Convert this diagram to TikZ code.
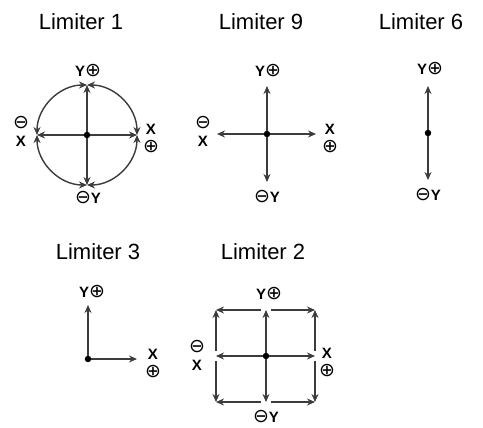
\documentclass[tikz,border=0pt]{standalone}
\usepackage{fontspec}
\setmainfont{Liberation Sans}
\newfontfamily\circfont{DejaVu Sans}
\usetikzlibrary{arrows.meta,positioning}
\definecolor{axisgray}{RGB}{60,60,60}
\newcommand{\posmark}{{\circfont\mdseries\fontsize{19}{18}\selectfont ⊕}}
\newcommand{\negmark}{{\circfont\mdseries\fontsize{19}{18}\selectfont ⊖}}

\begin{document}
\begin{tikzpicture}[
    x=1pt, y=1pt,
    title/.style={font=\fontsize{22}{26}\selectfont, inner sep=0pt},
    axlabel/.style={font=\bfseries\fontsize{15}{18}\selectfont, inner sep=0pt, align=center},
    origin/.style={circle, fill=black, inner sep=0pt, minimum size=6.5pt},
    axis/.style={-{Stealth[length=8pt,width=7pt]}, line width=1.4pt, axisgray},
    edge/.style={{Stealth[length=8pt,width=7pt]}-{Stealth[length=8pt,width=7pt]},
                 line width=1.4pt, axisgray}
]
\useasboundingbox (0,0) rectangle (483,428);

% titles
\node[title] (lim1) at (81,406) {Limiter 1};
\node[title] (lim9) at (261,406) {Limiter 9};
\node[title] (lim6) at (421,406) {Limiter 6};
\node[title] (lim3) at (98,176) {Limiter 3};
\node[title] (lim2) at (263,176) {Limiter 2};

% Limiter 1
\node[origin] (c1) at (87,293) {};
\coordinate (c1t) at (87,343);
\coordinate (c1b) at (87,243);
\coordinate (c1l) at (37,293);
\coordinate (c1r) at (137,293);
\draw[axis] (c1) -- (c1t);
\draw[axis] (c1) -- (c1b);
\draw[axis] (c1) -- (c1l);
\draw[axis] (c1) -- (c1r);
\draw[edge] (c1t) arc[start angle=90, end angle=0, radius=50pt];
\draw[edge] (c1r) arc[start angle=0, end angle=-90, radius=50pt];
\draw[edge] (c1b) arc[start angle=-90, end angle=-180, radius=50pt];
\draw[edge] (c1l) arc[start angle=180, end angle=90, radius=50pt];
\node[axlabel] (c1yp) at (88,357) {Y\posmark};
\node[axlabel] (c1yn) at (88,230) {\negmark Y};
\node[axlabel] (c1xn) at (21,297) {\negmark\\X};
\node[axlabel] (c1xp) at (151,290) {X\\\posmark};

% Limiter 9
\node[origin] (c9) at (267,294) {};
\coordinate (c9t) at (267,342);
\coordinate (c9b) at (267,246);
\coordinate (c9l) at (217,294);
\coordinate (c9r) at (316,294);
\draw[axis] (c9) -- (c9t);
\draw[axis] (c9) -- (c9b);
\draw[axis] (c9) -- (c9l);
\draw[axis] (c9) -- (c9r);
\node[axlabel] (c9yp) at (268,357) {Y\posmark};
\node[axlabel] (c9yn) at (267,231) {\negmark Y};
\node[axlabel] (c9xn) at (203,297) {\negmark\\X};
\node[axlabel] (c9xp) at (330,290) {X\\\posmark};

% Limiter 6
\node[origin] (c6) at (428,295) {};
\coordinate (c6t) at (428,342);
\coordinate (c6b) at (428,248);
\draw[axis] (c6) -- (c6t);
\draw[axis] (c6) -- (c6b);
\node[axlabel] (c6yp) at (430,359) {Y\posmark};
\node[axlabel] (c6yn) at (428,233) {\negmark Y};

% Limiter 3
\node[origin] (c3) at (88,69) {};
\coordinate (c3t) at (88,123);
\coordinate (c3r) at (137,69);
\draw[axis] (c3) -- (c3t);
\draw[axis] (c3) -- (c3r);
\node[axlabel] (c3yp) at (92,136) {Y\posmark};
\node[axlabel] (c3xp) at (153,65) {X\\\posmark};

% Limiter 2
\node[origin] (c2) at (266,72) {};
\coordinate (c2t) at (266,118);
\coordinate (c2b) at (266,26);
\coordinate (c2l) at (216,72);
\coordinate (c2r) at (315,72);
\coordinate (c2tl) at (216,118);
\coordinate (c2tr) at (315,118);
\coordinate (c2bl) at (216,26);
\coordinate (c2br) at (315,26);
\draw[axis] (c2) -- (c2t);
\draw[axis] (c2) -- (c2b);
\draw[axis] (c2) -- (c2l);
\draw[axis] (c2) -- (c2r);
\draw[axis, shorten <=5pt] (c2t) -- (c2tl);
\draw[axis, shorten <=5pt] (c2t) -- (c2tr);
\draw[axis, shorten <=5pt] (c2b) -- (c2bl);
\draw[axis, shorten <=5pt] (c2b) -- (c2br);
\draw[axis, shorten <=5pt] (c2l) -- (c2tl);
\draw[axis, shorten <=5pt] (c2l) -- (c2bl);
\draw[axis, shorten <=5pt] (c2r) -- (c2tr);
\draw[axis, shorten <=5pt] (c2r) -- (c2br);
\node[axlabel] (c2yp) at (269,134) {Y\posmark};
\node[axlabel] (c2yn) at (266,11) {\negmark Y};
\node[axlabel] (c2xn) at (197,73) {\negmark\\X};
\node[axlabel] (c2xp) at (327,66) {X\\\posmark};
\end{tikzpicture}
\end{document}
